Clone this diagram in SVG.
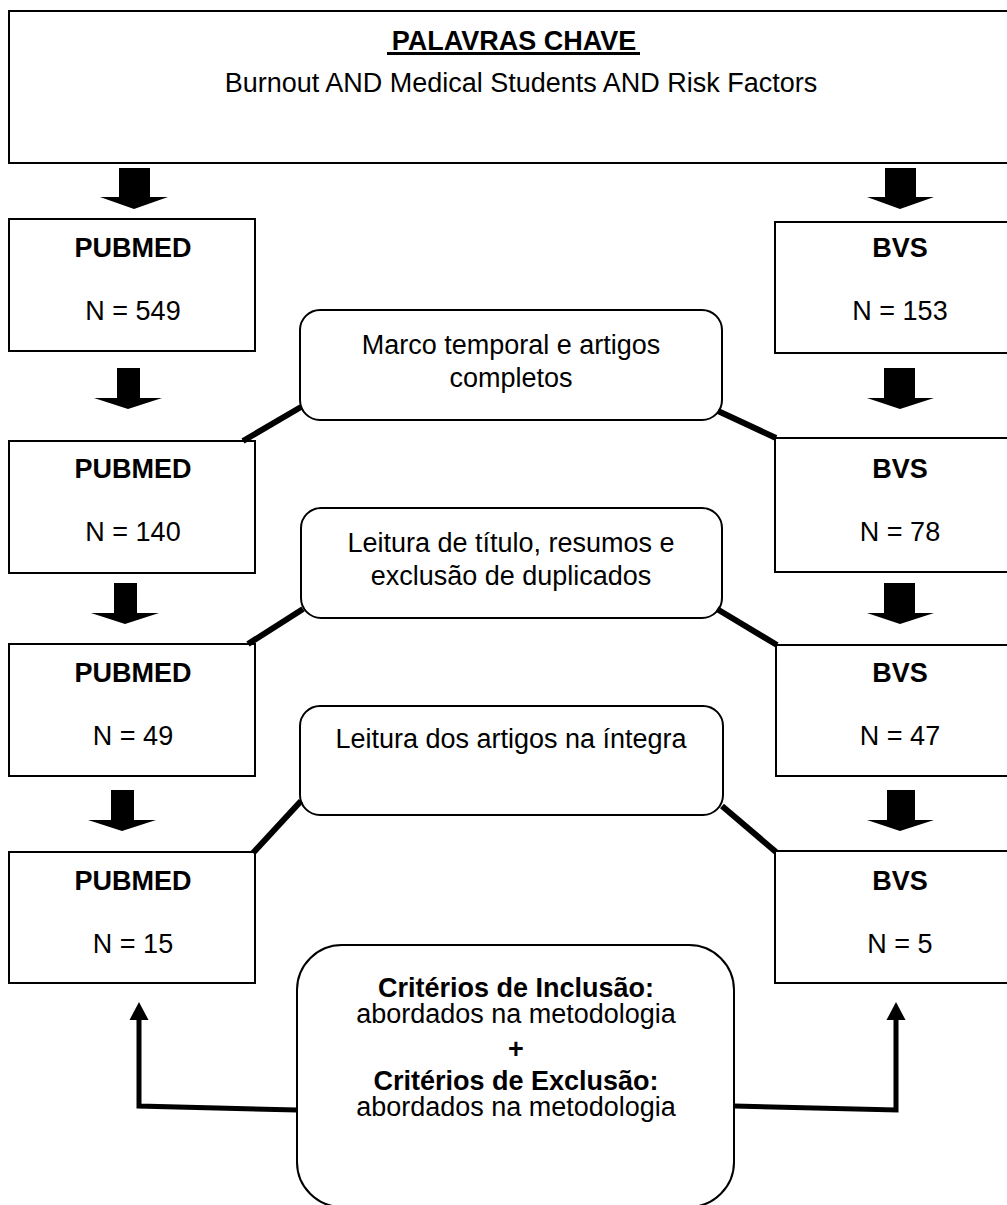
<svg xmlns="http://www.w3.org/2000/svg" width="1007" height="1205" viewBox="0 0 1007 1205">
<style>
.box{fill:#fff;stroke:#000;stroke-width:2}
.rbox{fill:#fff;stroke:#000;stroke-width:2}
.t{font-family:"Liberation Sans",Arial,sans-serif;font-size:27px;fill:#000;text-anchor:middle}
.b{font-weight:bold}
.big{fill:#000;stroke:none}
.conn{fill:none;stroke:#000;stroke-width:6}
.thin{fill:none;stroke:#000;stroke-width:5}
</style>
<rect width="1007" height="1205" fill="#fff"/>

<g id="keywords">
<rect class="box" x="9" y="11" width="1010" height="152"/>
<text class="t b" x="514" y="50">PALAVRAS CHAVE</text>
<rect x="387" y="52" width="253" height="3" fill="#000"/>
<text class="t" x="521" y="92">Burnout AND Medical Students AND Risk Factors</text>
</g>

<g id="pubmed1"><rect class="box" x="9" y="219" width="246" height="132"/>
<text class="t b" x="133" y="257">PUBMED</text><text class="t" x="133" y="320">N = 549</text></g>
<g id="bvs1"><rect class="box" x="775" y="222" width="240" height="131"/>
<text class="t b" x="900" y="257">BVS</text><text class="t" x="900" y="320">N = 153</text></g>

<g id="pubmed2"><rect class="box" x="9" y="441" width="246" height="132"/>
<text class="t b" x="133" y="478">PUBMED</text><text class="t" x="133" y="541">N = 140</text></g>
<g id="bvs2"><rect class="box" x="775" y="438" width="240" height="134"/>
<text class="t b" x="900" y="478">BVS</text><text class="t" x="900" y="541">N = 78</text></g>

<g id="pubmed3"><rect class="box" x="9" y="644" width="246" height="132"/>
<text class="t b" x="133" y="682">PUBMED</text><text class="t" x="133" y="745">N = 49</text></g>
<g id="bvs3"><rect class="box" x="776" y="645" width="240" height="131"/>
<text class="t b" x="900" y="682">BVS</text><text class="t" x="900" y="745">N = 47</text></g>

<g id="pubmed4"><rect class="box" x="9" y="852" width="246" height="131"/>
<text class="t b" x="133" y="890">PUBMED</text><text class="t" x="133" y="953">N = 15</text></g>
<g id="bvs4"><rect class="box" x="775" y="851" width="240" height="132"/>
<text class="t b" x="900" y="890">BVS</text><text class="t" x="900" y="953">N = 5</text></g>

<g id="filter1"><rect class="rbox" x="300" y="310" width="422" height="110" rx="20"/>
<text class="t" x="511" y="354">Marco temporal e artigos</text><text class="t" x="511" y="387">completos</text></g>
<g id="filter2"><rect class="rbox" x="301" y="508" width="421" height="110" rx="20"/>
<text class="t" x="511" y="552">Leitura de título, resumos e</text><text class="t" x="511" y="585">exclusão de duplicados</text></g>
<g id="filter3"><rect class="rbox" x="300" y="706" width="423" height="109" rx="20"/>
<text class="t" x="511" y="748">Leitura dos artigos na íntegra</text></g>

<g id="criteria"><rect class="rbox" x="297" y="945" width="437" height="262" rx="45"/>
<text class="t b" x="516" y="997">Critérios de Inclusão:</text>
<text class="t" x="516" y="1023">abordados na metodologia</text>
<text class="t b" x="516" y="1058">+</text>
<text class="t b" x="516" y="1090">Critérios de Exclusão:</text>
<text class="t" x="516" y="1116">abordados na metodologia</text></g>

<g id="connectors">
<polygon class="big" points="119,168 150,168 150,197 168,197 134,209 100,197 119,197"/>
<polygon class="big" points="885,168 916,168 916,197 934,197 900,209 867,197 885,197"/>
<polygon class="big" points="117,368 140,368 140,398 162,398 128,409 94,398 117,398"/>
<polygon class="big" points="884,368 915,368 915,398 934,398 900,409 867,398 884,398"/>
<polygon class="big" points="114,583 137,583 137,613 159,613 125,624 91,613 114,613"/>
<polygon class="big" points="884,583 915,583 915,613 934,613 900,624 867,613 884,613"/>
<polygon class="big" points="111,790 134,790 134,820 156,820 122,831 88,820 111,820"/>
<polygon class="big" points="887,790 915,790 915,820 934,820 900,831 867,820 887,820"/>
<line class="conn" x1="301" y1="407" x2="243" y2="441"/>
<line class="conn" x1="718" y1="411" x2="776" y2="438"/>
<line class="conn" x1="303" y1="609" x2="248" y2="644"/>
<line class="conn" x1="717" y1="609" x2="777" y2="645"/>
<line class="conn" x1="301" y1="801" x2="253" y2="853"/>
<line class="conn" x1="722" y1="806" x2="776" y2="852"/>
<polyline class="thin" points="297,1110 139,1106 139,1018"/>
<polygon class="big" points="139,1002 148.5,1020 129.5,1020"/>
<polyline class="thin" points="734,1106 896,1110 896,1018"/>
<polygon class="big" points="896,1002 905.5,1020 886.5,1020"/>
</g>
</svg>
